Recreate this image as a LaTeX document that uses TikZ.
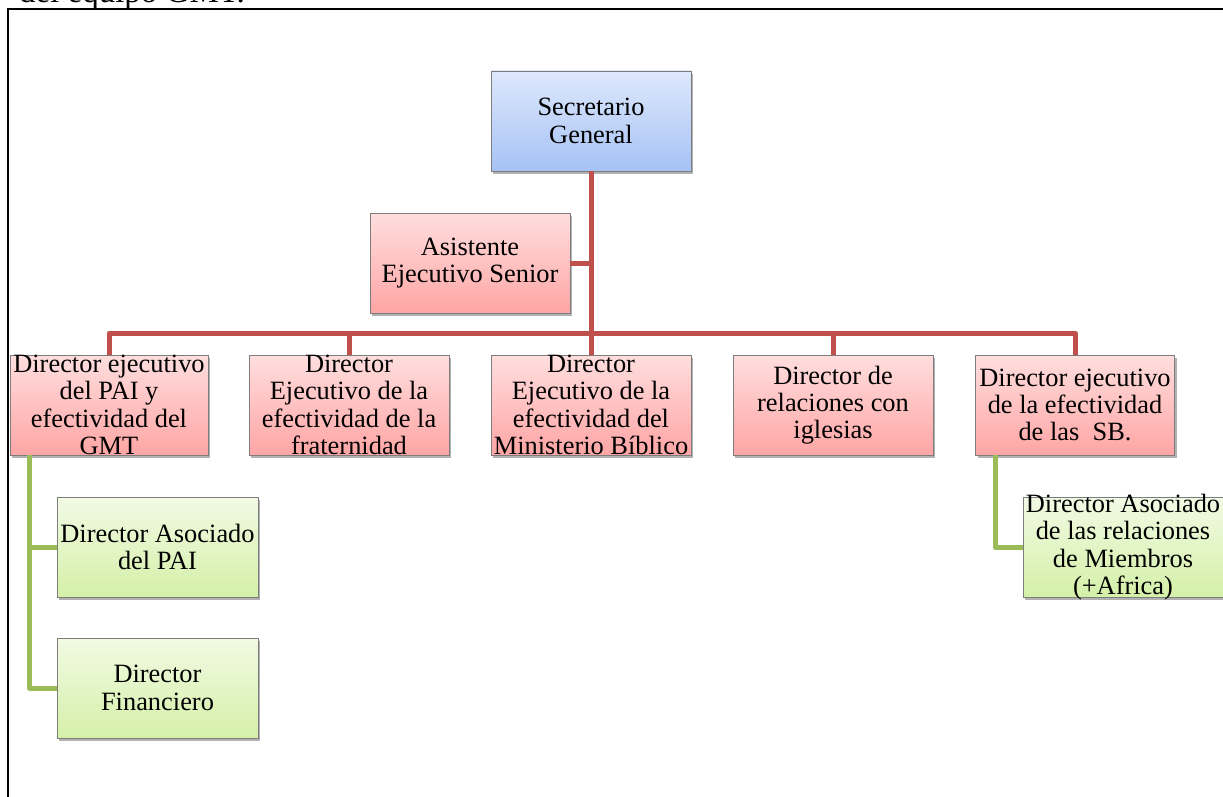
\documentclass[tikz,border=0pt]{standalone}
\usepackage{fontspec}
\setmainfont{Liberation Serif}
\usetikzlibrary{shadows}

\definecolor{redline}{HTML}{C0504D}
\definecolor{greenline}{HTML}{9BBB59}
\definecolor{redtop}{RGB}{255,222,222}
\definecolor{redbot}{RGB}{255,165,165}
\definecolor{bluetop}{RGB}{222,232,252}
\definecolor{bluebot}{RGB}{166,194,245}
\definecolor{greentop}{RGB}{242,250,228}
\definecolor{greenbot}{RGB}{212,240,168}
\definecolor{boxedge}{RGB}{125,125,125}

\tikzset{
  orgbox/.style={draw=boxedge, line width=0.9pt, inner sep=0pt,
    drop shadow={shadow xshift=2pt, shadow yshift=-3pt, opacity=0.3, fill=black},
    font=\fontsize{26.4}{27.3}\selectfont},
  bluebox/.style={orgbox, top color=bluetop, bottom color=bluebot},
  redbox/.style={orgbox, top color=redtop, bottom color=redbot},
  greenbox/.style={orgbox, top color=greentop, bottom color=greenbot},
  redlink/.style={draw=redline, line width=5pt, line join=round},
  greenlink/.style={draw=greenline, line width=5pt, line join=round},
}
\newcommand{\boxtext}[2]{\parbox[c][100pt][c]{#1}{\centering #2}}

\begin{document}
\begin{tikzpicture}[x=1pt, y=-1pt]
  \useasboundingbox (0,0) rectangle (1223,797);
  \clip (0,0) rectangle (1223,797);

  % page frame and the caption line running above it
  \node[anchor=base east, inner sep=0pt, font=\fontsize{33}{36}\selectfont] (caption) at (245,3) {del equipo GMT.};
  \draw[line width=2pt] (8,830) -- (8,9) -- (1240,9);

  % top level
  \node[bluebox] (sg) at (591,121) {\boxtext{200pt}{Secretario\\General}};
  \node[redbox] (ase) at (470,263) {\boxtext{200pt}{Asistente\\Ejecutivo Senior}};

  % directors
  \node[redbox] (d1) at (109,405) {\boxtext{198pt}{Director ejecutivo\\del PAI y\\efectividad del\\GMT}};
  \node[redbox] (d2) at (349,405) {\boxtext{200pt}{Director\\Ejecutivo de la\\efectividad de la\\fraternidad}};
  \node[redbox] (d3) at (591,405) {\boxtext{200pt}{Director\\Ejecutivo de la\\efectividad del\\Ministerio Bíblico}};
  \node[redbox] (d4) at (833,405) {\boxtext{200pt}{Director de\\relaciones con\\iglesias}};
  \node[redbox] (d5) at (1075,405) {\boxtext{199pt}{Director ejecutivo\\de la efectividad\\de las\ \ SB.}};

  % associates
  \node[greenbox] (g1) at (157.5,547) {\boxtext{201pt}{Director Asociado\\del PAI}};
  \node[greenbox] (g2) at (157.5,688) {\boxtext{201pt}{Director\\Financiero}};
  \node[greenbox] (g3) at (1123,547) {\boxtext{200pt}{Director Asociado\\de las relaciones\\de Miembros\\(+Africa)}};

  % red hierarchy lines
  \coordinate (bus) at (591,333);
  \path[redlink] (sg.south) -- (d3.north);
  \path[redlink] (ase.east) -- (ase.east -| sg.south);
  \path[redlink] (d1.north) |- (bus) -| (d5.north);
  \path[redlink] (d2.north) -- (d2.north |- bus);
  \path[redlink] (d4.north) -- (d4.north |- bus);

  % green sub-hierarchy lines
  \coordinate (lt) at ([xshift=20pt]d1.south west);
  \coordinate (rt) at ([xshift=20pt]d5.south west);
  \path[greenlink] (lt) |- (g2.west);
  \path[greenlink] (g1.west) -- (g1.west -| lt);
  \path[greenlink] (rt) |- (g3.west);
\end{tikzpicture}
\end{document}
